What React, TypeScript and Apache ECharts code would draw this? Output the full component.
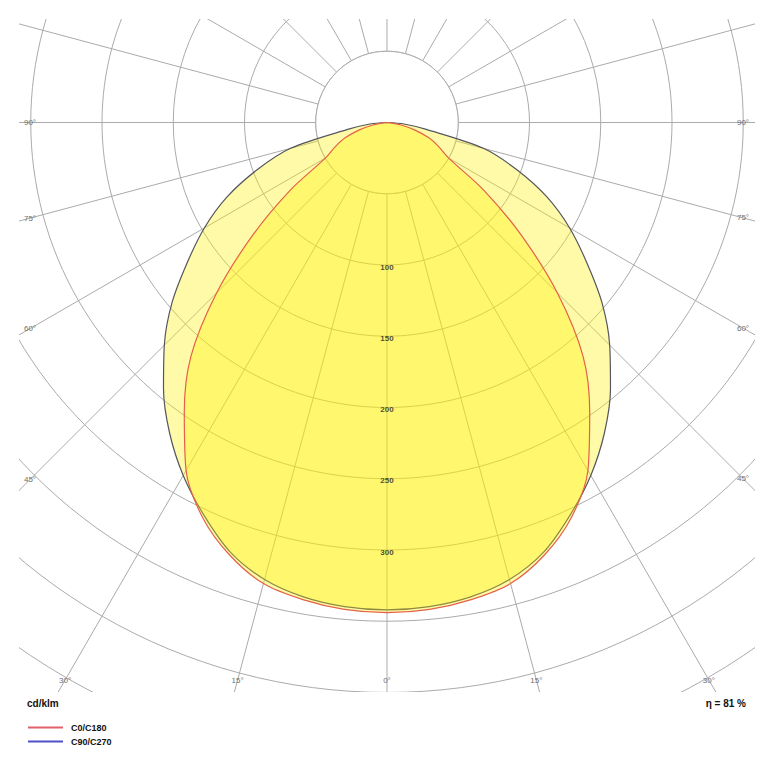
import React, { useEffect, useRef } from 'react';
import * as echarts from 'echarts';

// ---- data ----
const gammaDeg = [0, 5, 10, 15, 20, 25, 30, 35, 40, 45, 50, 55, 60, 65, 70, 75, 80, 85, 90];
const intensityC0C180 = [344, 343, 340, 335, 323, 306, 282, 248, 214, 169, 123, 83, 50, 40, 31, 20, 10, 2, 0];
const intensityC90C270 = [342, 341, 338, 332, 321, 304, 286, 266, 244, 221, 197, 171, 148, 124, 97, 70, 28, 12, 0];
const radiusTickLabels = [100, 150, 200, 250, 300];
const angleTickLabels = [90, 75, 60, 45, 30, 15, 0];
const seriesNames = ['C0/C180', 'C90/C270'];
const unitLabel = 'cd/klm';
const efficiencyLabel = 'η = 81 %';
const innerRing = 50;

// ---- layout ----
const CX = 387;
const CY = 122.5;
const PX_PER_CD = 1.425;
const R_MAX = 500;
const CLIP = { l: 19, r: 755, t: 19, b: 692 };
const SIDE_LABEL_X = { left: 30, right: 743 };
const BOTTOM_LABEL_Y = 680;

function mirrored(vals: number[]) {
  const pts: number[][] = [];
  for (let i = gammaDeg.length - 1; i >= 1; i--) pts.push([vals[i], 360 - gammaDeg[i]]);
  for (let i = 0; i < gammaDeg.length; i++) pts.push([vals[i], gammaDeg[i]]);
  return pts;
}

function angleLabelPos(g: number, side: number) {
  const rad = (g * Math.PI) / 180;
  const s = Math.sin(rad);
  const c = Math.cos(rad);
  const sideX = side < 0 ? SIDE_LABEL_X.left : SIDE_LABEL_X.right;
  const dx = Math.abs(sideX - CX);
  if (s > 1e-6) {
    const y = CY + (dx * c) / s;
    if (y <= BOTTOM_LABEL_Y) return [sideX, y];
  }
  const t = (BOTTOM_LABEL_Y - CY) / c;
  return [CX + side * t * s, BOTTOM_LABEL_Y];
}

export default function App() {
  const ref = useRef<HTMLDivElement>(null);
  useEffect(() => {
    if (!ref.current) return;
    const chart = echarts.init(ref.current, null, { renderer: 'svg' });

    const graphics: any[] = [];
    // masks outside the plot rectangle
    graphics.push(
      { type: 'rect', shape: { x: 0, y: 0, width: 774, height: CLIP.t }, style: { fill: '#fff' }, z: 100, silent: true },
      { type: 'rect', shape: { x: 0, y: CLIP.b, width: 774, height: 774 - CLIP.b }, style: { fill: '#fff' }, z: 100, silent: true },
      { type: 'rect', shape: { x: 0, y: 0, width: CLIP.l, height: 774 }, style: { fill: '#fff' }, z: 100, silent: true },
      { type: 'rect', shape: { x: CLIP.r, y: 0, width: 774 - CLIP.r, height: 774 }, style: { fill: '#fff' }, z: 100, silent: true }
    );
    const done = new Set<string>();
    angleTickLabels.forEach((g) => {
      [-1, 1].forEach((side) => {
        const [x, y] = angleLabelPos(g, side);
        const key = Math.round(x) + ',' + Math.round(y);
        if (done.has(key)) return;
        done.add(key);
        graphics.push({
          type: 'text',
          x,
          y,
          z: 101,
          silent: true,
          style: {
            text: g + '°',
            fill: '#6e6e6e',
            fontSize: 8,
            fontFamily: 'Liberation Sans',
            align: 'center',
            verticalAlign: 'middle',
            textAlign: 'center',
            textVerticalAlign: 'middle',
          },
        });
      });
    });
    graphics.push(
      {
        type: 'text', x: 27, y: 703, z: 101, silent: true,
        style: { text: unitLabel, fill: '#111', fontSize: 10, fontWeight: 'bold', fontFamily: 'Liberation Sans', align: 'left', verticalAlign: 'middle', textAlign: 'left', textVerticalAlign: 'middle' },
      },
      {
        type: 'text', x: 746, y: 703, z: 101, silent: true,
        style: { text: efficiencyLabel, fill: '#111', fontSize: 10, fontWeight: 'bold', fontFamily: 'Liberation Sans', align: 'right', verticalAlign: 'middle', textAlign: 'right', textVerticalAlign: 'middle' },
      }
    );

    const diskData: number[][] = [];
    for (let a = 0; a <= 360; a += 5) diskData.push([innerRing, a]);

    const fill = 'rgba(255,240,0,0.34)';
    const option: any = {
      animation: false,
      backgroundColor: '#fff',
      polar: { center: [CX, CY], radius: R_MAX * PX_PER_CD },
      angleAxis: {
        type: 'value', min: 0, max: 360, interval: 15, startAngle: -90, clockwise: true,
        axisLine: { show: false }, axisTick: { show: false }, axisLabel: { show: false },
        splitLine: { show: true, lineStyle: { color: '#ababab', width: 1 } },
      },
      radiusAxis: {
        type: 'value', min: 0, max: R_MAX, interval: 50,
        axisLine: { show: false }, axisTick: { show: false }, axisLabel: { show: false },
        splitLine: { show: true, lineStyle: { color: '#ababab', width: 1 } },
      },
      legend: {
        orient: 'vertical', left: 28, top: 723, itemWidth: 35, itemHeight: 2, itemGap: 5,
        padding: 0,
        z: 120,
        selectedMode: false,
        textStyle: { fontSize: 9, fontWeight: 'bold', color: '#111', fontFamily: 'Liberation Sans', padding: [0, 0, 0, 3] },
        data: [
          { name: seriesNames[0], icon: 'rect', itemStyle: { color: '#e0606c' } },
          { name: seriesNames[1], icon: 'rect', itemStyle: { color: '#5050c8' } },
        ],
      },
      graphic: { elements: graphics },
      series: [
        {
          type: 'line', coordinateSystem: 'polar', name: 'inner', data: diskData, symbol: 'none', silent: true,
          lineStyle: { color: '#ababab', width: 1 }, areaStyle: { color: '#fff', opacity: 1 }, z: 2,
        },
        {
          type: 'line', coordinateSystem: 'polar', name: seriesNames[1], data: mirrored(intensityC90C270), symbol: 'none',
          smooth: 0.3,
          lineStyle: { color: '#55565e', width: 1.2 }, itemStyle: { color: '#55565e' }, areaStyle: { color: fill, opacity: 1 }, z: 3,
        },
        {
          type: 'line', coordinateSystem: 'polar', name: seriesNames[0], data: mirrored(intensityC0C180), symbol: 'none',
          smooth: 0.3,
          lineStyle: { color: '#e4604a', width: 1.2 }, itemStyle: { color: '#e4604a' }, areaStyle: { color: fill, opacity: 1 }, z: 4,
        },
        {
          type: 'scatter', coordinateSystem: 'polar', name: 'ticks', silent: true,
          data: radiusTickLabels.map((v) => [v, 0]), symbolSize: 0.1, itemStyle: { color: 'transparent' },
          label: {
            show: true, position: 'inside', offset: [0, 2], formatter: (p: any) => String(p.value[0]),
            fontSize: 8, fontWeight: 'bold', color: '#222', fontFamily: 'Liberation Sans',
          },
          z: 5,
        },
      ],
    };
    chart.setOption(option);
    return () => chart.dispose();
  }, []);
  return <div ref={ref} style={{ position: 'fixed', left: 0, top: 0, width: 774, height: 774, background: '#fff' }} />;
}
